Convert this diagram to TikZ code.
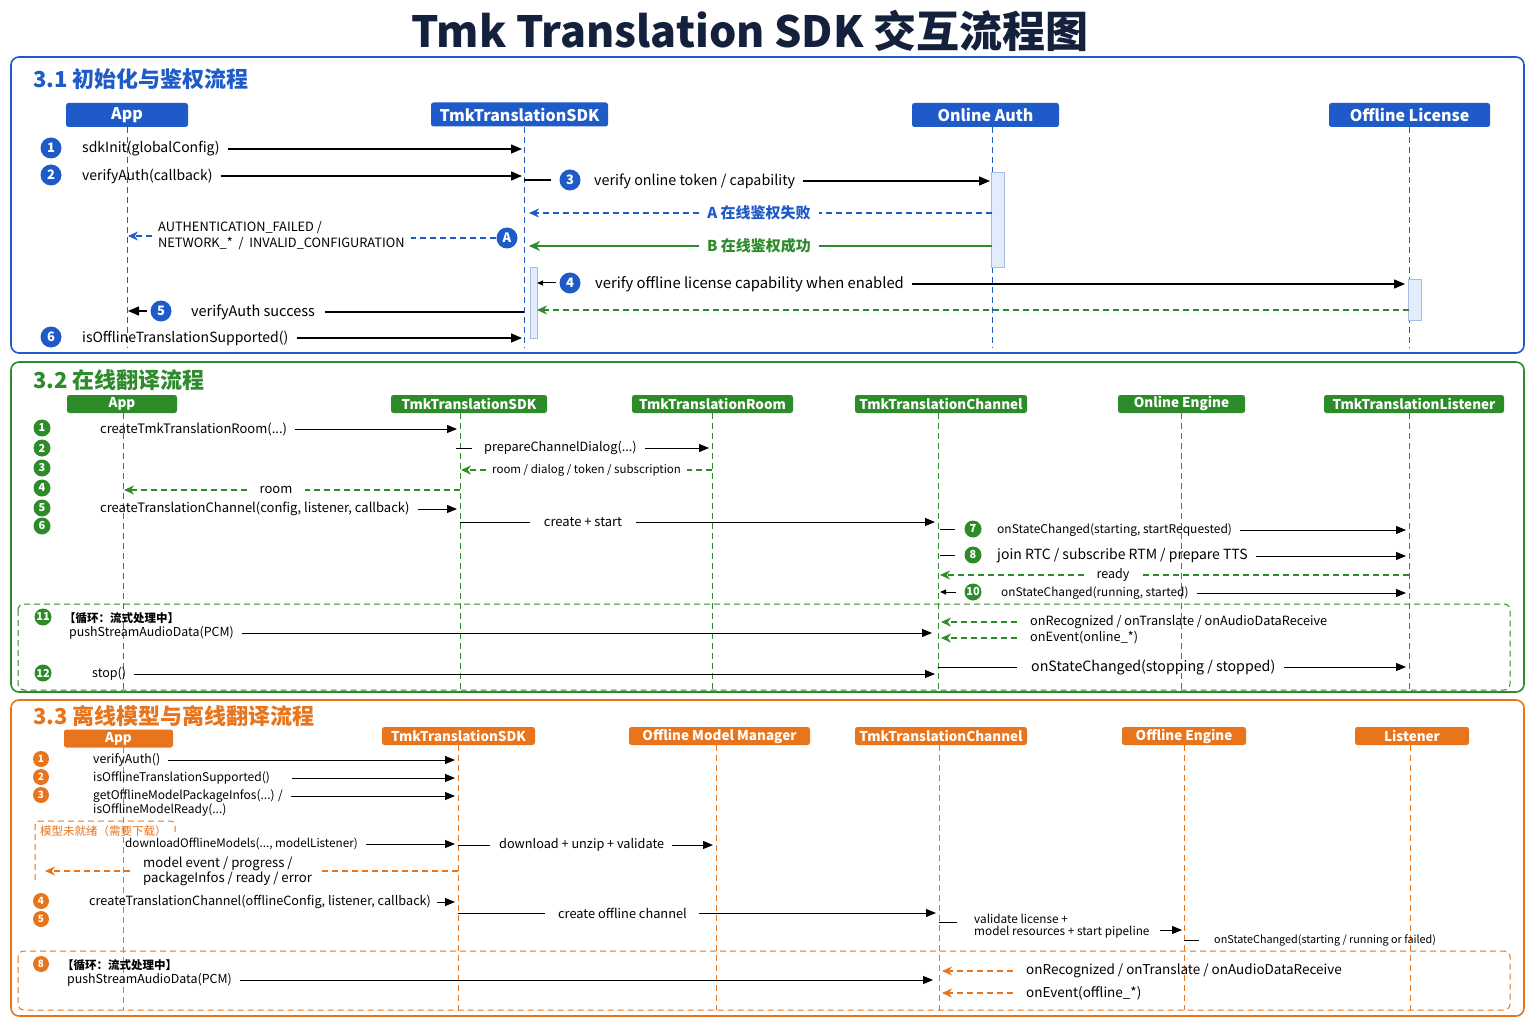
\documentclass[tikz,border=0pt]{standalone}
\usepackage{fontspec}
\setmainfont{Noto Sans CJK SC}
\usetikzlibrary{arrows.meta}
\definecolor{cblue}{HTML}{1F5BC8}
\definecolor{cgreen}{HTML}{2E8B2A}
\definecolor{corange}{HTML}{E8741C}
\definecolor{navy}{HTML}{14213D}
\definecolor{lblue}{HTML}{E3ECFB}
\newcommand{\myfs}[1]{\fontsize{#1}{#1}\selectfont}
\begin{document}
\begin{tikzpicture}[x=1pt,y=-1pt,
  lbl/.style={anchor=west, inner sep=0pt, text=black},
  hdr/.style={fill=#1, text=white, rounded corners=2.5pt, inner sep=0pt},
  hdrA/.style={hdr=cblue, minimum height=24pt, font=\myfs{16}\bfseries},
  hdrB/.style={hdr=cgreen, minimum height=18pt, font=\myfs{13.5}\bfseries},
  hdrC/.style={hdr=corange, minimum height=18pt, font=\myfs{13.5}\bfseries},
  num/.style={circle, fill=#1, text=white, inner sep=0pt},
  numA/.style={num=cblue, minimum size=21pt, font=\myfs{13}\bfseries},
  numB/.style={num=cgreen, minimum size=17pt, font=\myfs{11}\bfseries},
  numC/.style={num=corange, minimum size=16pt, font=\myfs{10}\bfseries},
  life/.style={#1, line width=1pt, dash pattern=on 6pt off 4pt},
  msgA/.style={line width=1.4pt, -{Triangle[length=11pt,width=9pt]}, shorten <=8pt, shorten >=2pt},
  msg/.style={line width=1pt, -{Triangle[length=10pt,width=8pt]}, shorten <=8pt, shorten >=3pt},
  ret/.style={#1, line width=1.2pt, dash pattern=on 6pt off 4pt, -{Stealth[length=10pt,width=9pt]}},
  dl/.style={#1, line width=1.2pt, dash pattern=on 6pt off 4pt},
  seg/.style={line width=1pt},
  act/.style={fill=lblue, draw=cblue!40, line width=0.8pt},
  ttl/.style={anchor=west, inner sep=0pt, font=\myfs{22}\bfseries},
]
\useasboundingbox (0,0) rectangle (1536,1024);
\fill[white] (0,0) rectangle (1536,1024);

\node[text=navy, font=\myfs{43}\bfseries, inner sep=0pt] (title) at (750,31) {Tmk Translation SDK 交互流程图};

%% ================= 3.1 =================
\draw[cblue, line width=1.6pt, rounded corners=8pt] (11,57) rectangle (1524,353);
\node[ttl, text=cblue] (aT) at (33,79) {3.1 初始化与鉴权流程};
\node[hdrA, minimum width=122pt] (aH1) at (127,115) {App};
\node[hdrA, minimum width=177pt] (aH2) at (519.5,114.5) {TmkTranslationSDK};
\node[hdrA, minimum width=147pt] (aH3) at (985.5,115) {Online Auth};
\node[hdrA, minimum width=161pt] (aH4) at (1409.5,115) {Offline License};
\coordinate (aL1) at (127,127); \coordinate (aL1b) at (127,348);
\coordinate (aL2) at (524,127); \coordinate (aL2b) at (524,348);
\coordinate (aL3) at (992,127); \coordinate (aL3b) at (992,348);
\coordinate (aL4) at (1409,127); \coordinate (aL4b) at (1409,348);
\foreach \i in {1,...,4} \draw[life=cblue] (aL\i) -- (aL\i b);
\draw[act] (991,172) rectangle (1004,267);
\draw[act] (530,267) rectangle (537,338);
\draw[act] (1408,279) rectangle (1421,320);

\node[numA] (aN1) at (51,148) {1};
\node[lbl, font=\myfs{14}] (aM1) at (82,149) {sdkInit(globalConfig)};
\draw[msgA] (aM1.east) -- (aM1 -| aL2);
\node[numA] (aN2) at (51,175) {2};
\node[lbl, font=\myfs{14}] (aM2) at (82,176) {verifyAuth(callback)};
\draw[msgA] (aM2.east) -- (aM2 -| aL2);

\node[numA] (aN3) at (570,180) {3};
\node[lbl, font=\myfs{14.3}] (aM3) at (594,181) {verify online token / capability};
\draw[line width=1.4pt, shorten >=8pt] (aN3 -| aL2) -- (aN3.west);
\draw[msgA] (aM3.east) -- (aM3 -| aL3);

\node[text=cblue, font=\myfs{15}\bfseries, inner sep=0pt] (aRA) at (759,213) {A 在线鉴权失败};
\draw[dl=cblue, shorten >=8pt] (aRA -| aL3) -- (aRA.east);
\draw[ret=cblue, shorten <=8pt, shorten >=5pt] (aRA.west) -- (aRA -| aL2);
\node[text=cgreen, font=\myfs{15}\bfseries, inner sep=0pt] (aRB) at (759,246) {B 在线鉴权成功};
\draw[cgreen, line width=1.4pt, shorten >=8pt] (aRB -| aL3) -- (aRB.east);
\draw[cgreen, line width=1.4pt, -{Stealth[length=11pt,width=10pt]}, shorten <=8pt, shorten >=5pt] (aRB.west) -- (aRB -| aL2);

\node[numA] (aNA) at (507,238) {A};
\node[lbl, font=\fontsize{12.8}{16}\selectfont, align=left] (aErr) at (158,236) {AUTHENTICATION\_FAILED /\\NETWORK\_* \ / \ INVALID\_CONFIGURATION};
\draw[dl=cblue, shorten >=6pt] (aNA.west) -- (aNA -| aErr.east);
\draw[ret=cblue, shorten <=6pt, shorten >=1pt] (aErr.west) -- (aErr -| aL1);

\node[numA] (aN4) at (570,283) {4};
\node[lbl, font=\myfs{14.8}] (aM4) at (595,284) {verify offline license capability when enabled};
\draw[line width=1pt, -{Triangle[length=6pt,width=5pt]}, shorten <=3pt, shorten >=13pt] (aN4.west) -- (aN4 -| aL2);
\draw[msgA, shorten >=4pt] (aM4.east) -- (aM4 -| aL4);
\coordinate (aR4) at (1409,310);
\draw[ret=cgreen, shorten >=13pt] (aR4) -- (aR4 -| aL2);

\node[numA] (aN5) at (161,311) {5};
\node[lbl, font=\myfs{14.5}] (aM5) at (191,312) {verifyAuth success};
\draw[line width=1.4pt, shorten >=10pt] (aM5 -| aL2) -- (aM5.east);
\draw[msgA, shorten <=3pt, shorten >=1pt] (aN5.west) -- (aN5 -| aL1);

\node[numA] (aN6) at (51,337) {6};
\node[lbl, font=\myfs{14}] (aM6) at (82,338) {isOfflineTranslationSupported()};
\draw[msgA] (aM6.east) -- (aM6 -| aL2);

%% ================= 3.2 =================
\draw[cgreen, line width=1.6pt, rounded corners=8pt] (11,362) rectangle (1524,692);
\node[ttl, text=cgreen] (bT) at (33,380) {3.2 在线翻译流程};
\node[hdrB, minimum width=110pt] (bH1) at (122,404) {App};
\node[hdrB, minimum width=156pt] (bH2) at (469,404) {TmkTranslationSDK};
\node[hdrB, minimum width=161pt] (bH3) at (712.5,404) {TmkTranslationRoom};
\node[hdrB, minimum width=172pt] (bH4) at (941,404) {TmkTranslationChannel};
\node[hdrB, minimum width=127pt] (bH5) at (1181.5,404) {Online Engine};
\node[hdrB, minimum width=180pt] (bH6) at (1414,404) {TmkTranslationListener};
\coordinate (bL1) at (123,413); \coordinate (bL1b) at (123,690);
\coordinate (bL2) at (460,413); \coordinate (bL2b) at (460,690);
\coordinate (bL3) at (712,413); \coordinate (bL3b) at (712,690);
\coordinate (bL4) at (938,413); \coordinate (bL4b) at (938,690);
\coordinate (bL5) at (1181,413); \coordinate (bL5b) at (1181,690);
\coordinate (bL6) at (1409,413); \coordinate (bL6b) at (1409,690);
\foreach \i in {1,...,6} \draw[life=cgreen] (bL\i) -- (bL\i b);
\draw[dl=cgreen, line width=1pt, rounded corners=6pt] (18,604) rectangle (1510,690);

\node[numB] (bN1) at (42,428) {1};
\node[numB] (bN2) at (42,448) {2};
\node[numB] (bN3) at (42,468) {3};
\node[numB] (bN4) at (42,488) {4};
\node[numB] (bN5) at (42,508) {5};
\node[numB] (bN6) at (42,526) {6};

\node[lbl, font=\myfs{13}] (bM1) at (100,429) {createTmkTranslationRoom(...)};
\draw[msg] (bM1.east) -- (bM1 -| bL2);
\node[lbl, font=\myfs{12.7}] (bM2) at (484,448) {prepareChannelDialog(...)};
\draw[seg, shorten <=-4pt, shorten >=12pt] (bM2 -| bL2) -- (bM2.west);
\draw[msg] (bM2.east) -- (bM2 -| bL3);
\node[lbl, font=\myfs{11.5}] (bM3) at (492,470) {room / dialog / token / subscription};
\draw[dl=cgreen, shorten >=6pt] (bM3 -| bL3) -- (bM3.east);
\draw[ret=cgreen, shorten <=6pt, shorten >=1pt] (bM3.west) -- (bM3 -| bL2);
\node[font=\myfs{13}, inner sep=0pt] (bM4) at (276,490) {room};
\draw[dl=cgreen, shorten >=12pt] (bM4 -| bL2) -- (bM4.east);
\draw[ret=cgreen, shorten <=12pt, shorten >=1pt] (bM4.west) -- (bM4 -| bL1);
\node[lbl, font=\myfs{13}] (bM5) at (100,509) {createTranslationChannel(config, listener, callback)};
\draw[msg] (bM5.east) -- (bM5 -| bL2);
\node[font=\myfs{13}, inner sep=0pt] (bM6) at (583,522) {create + start};
\draw[seg, shorten >=14pt] (bM6 -| bL2) -- (bM6.west);
\draw[msg, shorten <=14pt] (bM6.east) -- (bM6 -| bL4);

\node[numB] (bN7) at (973,529) {7};
\draw[seg, shorten <=2pt, shorten >=9pt] (bN7 -| bL4) -- (bN7.west);
\node[lbl, font=\myfs{12}] (bM7) at (997,530) {onStateChanged(starting, startRequested)};
\draw[msg] (bM7.east) -- (bM7 -| bL6);
\node[numB] (bN8) at (973,555) {8};
\draw[seg, shorten <=2pt, shorten >=9pt] (bN8 -| bL4) -- (bN8.west);
\node[lbl, font=\myfs{14}] (bM8) at (997,556) {join RTC / subscribe RTM / prepare TTS};
\draw[msg] (bM8.east) -- (bM8 -| bL6);
\node[font=\myfs{12.5}, inner sep=0pt] (bM9) at (1113,575) {ready};
\draw[dl=cgreen, shorten >=12pt] (bM9 -| bL6) -- (bM9.east);
\draw[ret=cgreen, shorten <=12pt, shorten >=2pt] (bM9.west) -- (bM9 -| bL4);
\node[numB] (bN10) at (973,592) {10};
\draw[seg, -{Triangle[length=6pt,width=5pt]}, shorten <=8pt, shorten >=2pt] (bN10.west) -- (bN10 -| bL4);
\node[lbl, font=\myfs{11.8}] (bM10) at (1001,593) {onStateChanged(running, started)};
\draw[msg] (bM10.east) -- (bM10 -| bL6);

\node[numB] (bN11) at (43,617) {11};
\node[lbl, font=\myfs{11.5}\bfseries] (bLoop) at (64,618) {【循环：流式处理中】};
\node[lbl, font=\myfs{12.4}] (bM11) at (69,633) {pushStreamAudioData(PCM)};
\draw[msg, shorten >=6pt] (bM11.east) -- (bM11 -| bL4);
\node[lbl, font=\myfs{12.7}] (bR1) at (1030,622) {onRecognized / onTranslate / onAudioDataReceive};
\draw[ret=cgreen, shorten <=13pt, shorten >=3pt] (bR1.west) -- (bR1 -| bL4);
\node[lbl, font=\myfs{12.7}] (bR2) at (1030,638) {onEvent(online\_*)};
\draw[ret=cgreen, shorten <=13pt, shorten >=3pt] (bR2.west) -- (bR2 -| bL4);
\node[numB] (bN12) at (43,673) {12};
\node[lbl, font=\myfs{12.5}] (bM12) at (92,674) {stop()};
\draw[msg] (bM12.east) -- (bM12 -| bL4);
\node[lbl, font=\myfs{14.2}] (bM13) at (1031,667) {onStateChanged(stopping / stopped)};
\draw[seg, shorten >=14pt] (bM13 -| bL4) -- (bM13.west);
\draw[msg] (bM13.east) -- (bM13 -| bL6);

%% ================= 3.3 =================
\draw[corange, line width=1.6pt, rounded corners=8pt] (11,700) rectangle (1524,1016);
\node[ttl, text=corange] (cT) at (33,716) {3.3 离线模型与离线翻译流程};
\node[hdrC, minimum width=109pt] (cH1) at (118.5,738.5) {App};
\node[hdrC, minimum width=153pt] (cH2) at (458.5,736) {TmkTranslationSDK};
\node[hdrC, minimum width=181pt] (cH3) at (719.5,736) {Offline Model Manager};
\node[hdrC, minimum width=172pt] (cH4) at (941,736) {TmkTranslationChannel};
\node[hdrC, minimum width=124pt] (cH5) at (1184,736) {Offline Engine};
\node[hdrC, minimum width=114pt] (cH6) at (1412,736) {Listener};
\coordinate (cL1) at (123,747); \coordinate (cL1b) at (123,1010);
\coordinate (cL2) at (458,745); \coordinate (cL2b) at (458,1010);
\coordinate (cL3) at (716,745); \coordinate (cL3b) at (716,1010);
\coordinate (cL4) at (939,745); \coordinate (cL4b) at (939,1010);
\coordinate (cL5) at (1184,745); \coordinate (cL5b) at (1184,1010);
\coordinate (cL6) at (1410,745); \coordinate (cL6b) at (1410,1010);
\foreach \i in {1,...,6} \draw[life=corange] (cL\i) -- (cL\i b);
\draw[dl=corange, line width=1pt, rounded corners=6pt] (18,951) rectangle (1510,1010);

\node[numC] (cN1) at (41,759) {1};
\node[lbl, font=\myfs{12.3}] (cM1) at (93,760) {verifyAuth()};
\draw[msg] (cM1.east) -- (cM1 -| cL2);
\node[numC] (cN2) at (41,777) {2};
\node[lbl, font=\myfs{12}] (cM2) at (93,778) {isOfflineTranslationSupported()};
\draw[msg, shorten <=22pt] (cM2.east) -- (cM2 -| cL2);
\node[numC] (cN3) at (41,795) {3};
\node[lbl, font=\myfs{12}] (cM3) at (93,796) {getOfflineModelPackageInfos(...) /};
\node[lbl, font=\myfs{12}] (cM3b) at (93,810) {isOfflineModelReady(...)};
\draw[msg] (cM3.east) -- (cM3 -| cL2);

\draw[dl=corange, line width=1pt, rounded corners=4pt] (35,880) -- (35,821) -- (175,821) -- (175,836);
\node[lbl, text=corange, font=\myfs{11.5}] (cBox) at (40,831) {模型未就绪（需要下载）};
\node[lbl, font=\myfs{11.7}] (cM4) at (125,844) {downloadOfflineModels(..., modelListener)};
\draw[msg] (cM4.east) -- (cM4 -| cL2);
\node[lbl, font=\myfs{12.7}] (cM5) at (499,845) {download + unzip + validate};
\draw[seg, shorten >=9pt] (cM5 -| cL2) -- (cM5.west);
\draw[msg] (cM5.east) -- (cM5 -| cL3);
\node[lbl, font=\fontsize{13.2}{13.5}\selectfont, align=left] (cM6) at (143,871) {model event / progress /\\packageInfos / ready / error};
\coordinate (cIn) at (45,871);
\draw[dl=corange, shorten >=10pt] (cM6.east -| cL2) -- (cM6.east);
\draw[ret=corange, shorten <=13pt] (cM6.west) -- (cIn);

\node[numC] (cN4) at (41,901) {4};
\node[lbl, font=\myfs{12.7}] (cM7) at (89,902) {createTranslationChannel(offlineConfig, listener, callback)};
\draw[msg, shorten <=6pt] (cM7.east) -- (cM7 -| cL2);
\node[numC] (cN5) at (41,919) {5};
\node[lbl, font=\myfs{12.8}] (cM8) at (558,913) {create offline channel};
\draw[seg, shorten >=13pt] (cM8 -| cL2) -- (cM8.west);
\draw[msg, shorten <=12pt] (cM8.east) -- (cM8 -| cL4);

\node[lbl, font=\fontsize{11.8}{12.5}\selectfont, align=left] (cM9) at (974,926) {validate license +\\model resources + start pipeline};
\coordinate (cV1) at (957,922);
\draw[seg] (cV1 -| cL4) -- (cV1);
\coordinate (cV2) at (1160,930);
\draw[msg, shorten <=0pt, shorten >=2pt] (cV2) -- (cV2 -| cL5);
\node[lbl, font=\myfs{10.8}] (cM10) at (1214,940) {onStateChanged(starting / running or failed)};
\draw[seg, shorten >=15pt] (cM10 -| cL5) -- (cM10.west);

\node[numC] (cN8) at (41,964) {8};
\node[lbl, font=\myfs{11.5}\bfseries] (cLoop) at (62,965) {【循环：流式处理中】};
\node[lbl, font=\myfs{12.4}] (cM11) at (67,980) {pushStreamAudioData(PCM)};
\draw[msg, shorten >=6pt] (cM11.east) -- (cM11 -| cL4);
\node[lbl, font=\myfs{13.5}] (cR1) at (1026,971) {onRecognized / onTranslate / onAudioDataReceive};
\draw[ret=corange, shorten <=13pt, shorten >=3pt] (cR1.west) -- (cR1 -| cL4);
\node[lbl, font=\myfs{13.5}] (cR2) at (1026,993) {onEvent(offline\_*)};
\draw[ret=corange, shorten <=13pt, shorten >=3pt] (cR2.west) -- (cR2 -| cL4);
\end{tikzpicture}
\end{document}
